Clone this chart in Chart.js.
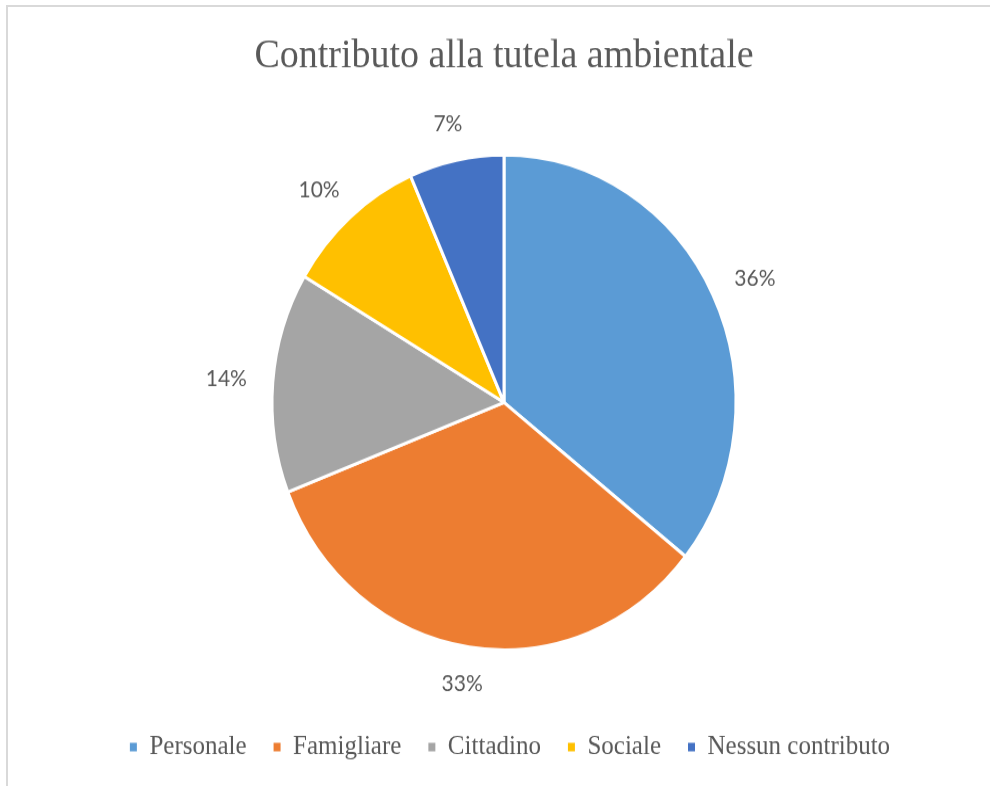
<!DOCTYPE html>
<html>
<head>
<meta charset="utf-8">
<script src="https://cdn.jsdelivr.net/npm/chart.js@4"></script>
<style>
  html, body { margin: 0; padding: 0; background: #fff; overflow: hidden; }
  #frame { position: absolute; left: 6px; top: 5px; width: 1000px; height: 800px;
           border-top: 2px solid #d9d9d9; border-left: 2px solid #d9d9d9; box-sizing: border-box; }
  #wrap { position: absolute; left: 0; top: 0; width: 990px; height: 737px;
          transform: scaleY(1.0665); transform-origin: 0 0; }
</style>
</head>
<body>
<div id="frame"></div>
<div id="wrap"><canvas id="c" width="990" height="737"></canvas></div>
<script>
const titleText = 'Contributo alla tutela ambientale';
const categories = ['Personale', 'Famigliare', 'Cittadino', 'Sociale', 'Nessun contributo'];
const values = [35.7, 33.4, 14.4, 9.9, 6.6];
const colors = ['#5B9BD5', '#ED7D31', '#A5A5A5', '#FFC000', '#4472C4'];

const outsideLabels = {
  id: 'outsideLabels',
  afterDatasetsDraw(chart) {
    const ctx = chart.ctx;
    const meta = chart.getDatasetMeta(0);
    const data = chart.data.datasets[0].data;
    const total = data.reduce((a, b) => a + b, 0);
    ctx.save();
    ctx.font = '21px Lato';
    ctx.fillStyle = '#595959';
    ctx.textAlign = 'center';
    ctx.textBaseline = 'middle';
    meta.data.forEach((arc, i) => {
      const p = arc.getProps(['x', 'y', 'startAngle', 'endAngle', 'outerRadius'], true);
      const mid = (p.startAngle + p.endAngle) / 2;
      const txt = Math.round(data[i] / total * 100) + '%';
      const w = ctx.measureText(txt).width;
      const h = 17;
      const c = Math.cos(mid), s = Math.sin(mid);
      const R = p.outerRadius + 26;
      ctx.fillText(txt, p.x + c * R + c * w / 2, p.y + s * R + s * h / 2);
    });
    ctx.restore();
  }
};

const legendShift = {
  id: 'legendShift',
  afterLayout(chart) {
    if (chart.legend) { chart.legend.left += 6; chart.legend.right += 6; }
  }
};

new Chart(document.getElementById('c'), {
  type: 'pie',
  data: {
    labels: categories,
    datasets: [{
      data: values,
      backgroundColor: colors,
      borderColor: '#ffffff',
      borderWidth: 3,
      radius: 232,
      hoverOffset: 0
    }]
  },
  options: {
    responsive: false,
    animation: false,
    layout: { padding: { left: 18, right: 0, top: 0, bottom: 14 } },
    plugins: {
      title: {
        display: true,
        text: titleText,
        color: '#595959',
        font: { family: '"Liberation Serif", "Times New Roman", serif', size: 38, weight: 'normal' },
        padding: { top: 30, bottom: 18 }
      },
      legend: {
        position: 'bottom',
        labels: {
          color: '#595959',
          font: { family: '"Liberation Serif", "Times New Roman", serif', size: 25 },
          boxWidth: 7,
          boxHeight: 8,
          padding: 27,
          generateLabels(chart) {
            const items = Chart.overrides.pie.plugins.legend.labels.generateLabels(chart);
            items.forEach(it => { it.lineWidth = 0; it.strokeStyle = it.fillStyle; });
            return items;
          }
        }
      },
      tooltip: { enabled: false }
    }
  },
  plugins: [outsideLabels, legendShift]
});
</script>
</body>
</html>
